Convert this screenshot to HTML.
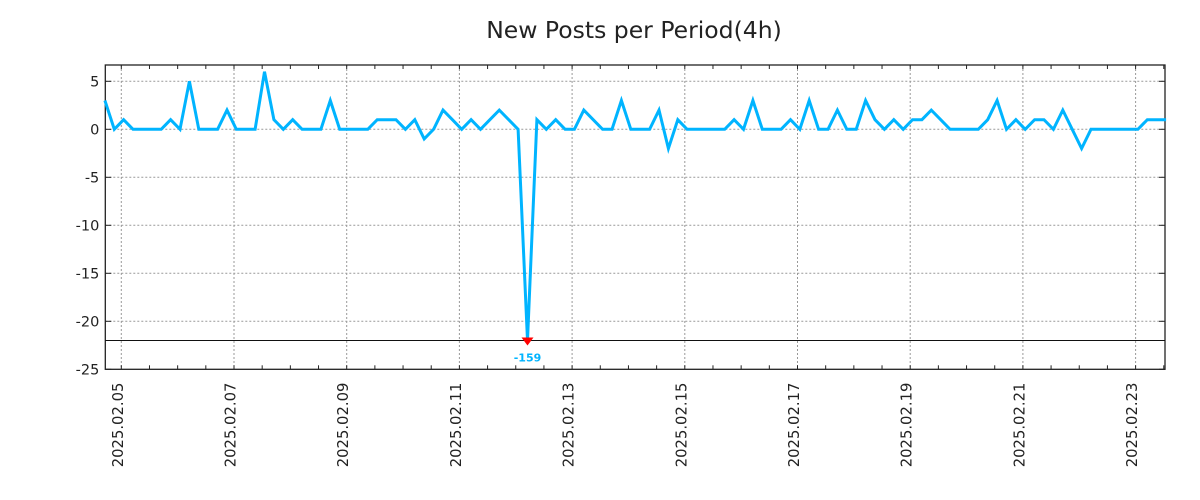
<!DOCTYPE html>
<html><head><meta charset="utf-8">
<style>
html,body{margin:0;padding:0;background:#fff;width:1200px;height:500px;overflow:hidden}
svg text{font-family:"DejaVu Sans","Liberation Sans",sans-serif}
</style></head>
<body>
<svg id="chart" width="1200" height="500" viewBox="0 0 1200 500" xmlns="http://www.w3.org/2000/svg">
<text x="634" y="38" text-anchor="middle" font-size="23.5" fill="#222">New Posts per Period(4h)</text>
<g id="grid"></g>
<rect x="105.3" y="65" width="1059.7" height="304.3" fill="none" stroke="#222" stroke-width="1.3"/>
<line x1="105.3" x2="1165" y1="340.5" y2="340.5" stroke="#111" stroke-width="1"/>
<g id="marks"></g>
</svg>
<script>
const values = [3,0,1,0,0,0,0,1,0,5,0,0,0,2,0,0,0,6,1,0,1,0,0,0,3,0,0,0,0,1,1,1,0,1,-1,0,2,1,0,1,0,1,2,1,0,-159,1,0,1,0,0,2,1,0,0,3,0,0,0,2,-2,1,0,0,0,0,0,1,0,3,0,0,0,1,0,3,0,0,2,0,0,3,1,0,1,0,1,1,2,1,0,0,0,0,1,3,0,1,0,1,1,0,2,0,-2,0,0,0,0,0,0,1,1,1];
const yTicks = [5,0,-5,-10,-15,-20,-25];
const xTickLabels = ["2025.02.05","2025.02.07","2025.02.09","2025.02.11","2025.02.13","2025.02.15","2025.02.17","2025.02.19","2025.02.21","2025.02.23"];
const startHourOffset = -7; // first sample relative to 2025.02.05 00:00
const stepHours = 4;
const clipMin = -22;

const NS="http://www.w3.org/2000/svg";
const L=105.3,R=1165,T=65,B=369.3;
const dayPx=56.35, x0=121.3;
function xScale(h){return x0+h/24*dayPx;}
function yScale(v){return 129.3-v*9.6;}
function mk(tag,attrs,parent){const e=document.createElementNS(NS,tag);for(const k in attrs)e.setAttribute(k,attrs[k]);parent.appendChild(e);return e;}
const grid=document.getElementById('grid'), marks=document.getElementById('marks');

yTicks.forEach(v=>{
  const y=yScale(v);
  if(v>-25){
    const g=mk('line',{x1:L,x2:R,y1:y,y2:y,stroke:'#999','stroke-dasharray':'2,2','stroke-width':1},grid);
    
    
  }
  mk('line',{x1:L,x2:L+6,y1:y,y2:y,stroke:'#222'},grid);
  mk('line',{x1:R-6,x2:R,y1:y,y2:y,stroke:'#222'},grid);
  const t=mk('text',{x:L-6,y:y+5,'text-anchor':'end','font-size':14.5,fill:'#222'},grid);
  t.textContent=v;
  
  
});
xTickLabels.forEach((lab,i)=>{
  const x=xScale(i*48);
  const g=mk('line',{x1:x,x2:x,y1:T,y2:B,stroke:'#999','stroke-dasharray':'2,2','stroke-width':1},grid);
  
  
  const t=mk('text',{transform:`translate(${x+1.5},${B+98}) rotate(-90)`,'font-size':14.8,fill:'#222'},grid);
  t.textContent=lab;
  
  
});
for(let h=-12;h<=19*24+12;h+=12){
  const x=xScale(h); if(x<L||x>R) continue;
  mk('line',{x1:x,x2:x,y1:B,y2:B-4,stroke:'#222'},grid);
  mk('line',{x1:x,x2:x,y1:T,y2:T+4,stroke:'#222'},grid);
}
let pts=[];let minIdx=0;
values.forEach((v,i)=>{ if(v<values[minIdx])minIdx=i;
  pts.push(xScale(startHourOffset+i*stepHours).toFixed(1)+','+yScale(Math.max(v,clipMin)).toFixed(1));});
const line=mk('polyline',{points:pts.join(' '),fill:'none',stroke:'#00b4ff','stroke-width':3,'stroke-linejoin':'miter'},marks);


const mx=xScale(startHourOffset+minIdx*stepHours), my=yScale(clipMin);
const tri=mk('polygon',{points:`${mx-6},${my-3} ${mx+6},${my-3} ${mx},${my+5}`,fill:'#f00'},marks);


const lt=mk('text',{x:mx,y:my+21,'text-anchor':'middle','font-size':11,'font-weight':'bold',fill:'#00b4ff'},marks);
lt.textContent=values[minIdx];


</script>
</body></html>
